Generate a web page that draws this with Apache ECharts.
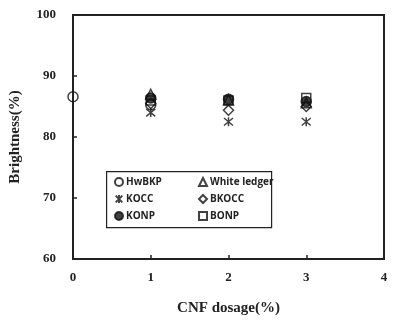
<!DOCTYPE html>
<html>
<head>
<meta charset="utf-8">
<script src="https://cdn.jsdelivr.net/npm/echarts@6/dist/echarts.min.js"></script>
<style>
  html, body { margin: 0; padding: 0; background: #fff; }
  #chart { width: 398px; height: 322px; }
</style>
</head>
<body>
<div id="chart"></div>
<script>
// CNF dosage (%) on the x axis
const dosage = [0, 1, 2, 3];
const xTicks = [0, 1, 2, 3, 4];
const yTicks = [60, 70, 80, 90, 100];

// Brightness (%) for each pulp furnish
const hwbkp = [[0, 86.6], [1, 85.3]];
const whiteLedger = [[1, 87.0], [2, 86.1], [3, 85.6]];
const kocc = [[1, 84.0], [2, 82.5], [3, 82.5]];
const bkocc = [[1, 85.5], [2, 84.4], [3, 85.0]];
const konp = [[1, 86.4], [2, 86.2], [3, 85.8]];
const bonp = [[1, 86.0], [2, 86.0], [3, 86.4]];

const seriesNames = ['HwBKP', 'White ledger', 'KOCC', 'BKOCC', 'KONP', 'BONP'];

const serif = 'Liberation Serif';
const sans = 'Open Sans';

const asterisk = 'path://M0,0 L10,10 M10,0 L0,10 M5,-1 L5,11';

function scatter(name, data, symbol, size, filled) {
  return {
    name: name,
    type: 'scatter',
    data: data,
    symbol: symbol,
    symbolSize: size,
    clip: false,
    itemStyle: {
      color: filled ? '#111' : 'rgba(255,255,255,0)',
      borderColor: '#111',
      borderWidth: 1.5
    }
  };
}

const legendText = { fontFamily: sans, fontWeight: 'bold', fontSize: 10, color: '#222', padding: [0, 0, 0, -2] };

const chart = echarts.init(document.getElementById('chart'), null, { renderer: 'canvas' });

chart.setOption({
  backgroundColor: '#fff',
  animation: false,
  grid: {
    left: 72, right: 14, top: 15, bottom: 63,
    show: true, borderColor: '#222', borderWidth: 2, backgroundColor: 'transparent'
  },
  xAxis: {
    type: 'value',
    min: xTicks[0], max: xTicks[xTicks.length - 1], interval: 1,
    name: 'CNF dosage(%)',
    nameLocation: 'middle',
    nameGap: 42,
    nameTextStyle: { fontFamily: serif, fontWeight: 'bold', fontSize: 15, color: '#222' },
    axisLine: { show: true, lineStyle: { color: '#222', width: 2 } },
    axisTick: { show: true, inside: true, length: 4, lineStyle: { color: '#222', width: 1.5 } },
    axisLabel: { fontFamily: serif, fontWeight: 'bold', fontSize: 13, color: '#222', margin: 12 },
    splitLine: { show: false }
  },
  yAxis: {
    type: 'value',
    min: yTicks[0], max: yTicks[yTicks.length - 1], interval: 10,
    name: 'Brightness(%)',
    nameLocation: 'middle',
    nameGap: 50,
    nameRotate: 90,
    nameTextStyle: { fontFamily: serif, fontWeight: 'bold', fontSize: 15, color: '#222' },
    axisLine: { show: true, lineStyle: { color: '#222', width: 2 } },
    axisTick: { show: true, inside: true, length: 4, lineStyle: { color: '#222', width: 1.5 } },
    axisLabel: { fontFamily: serif, fontWeight: 'bold', fontSize: 13, color: '#222', margin: 17 },
    splitLine: { show: false }
  },
  graphic: [{
    type: 'rect',
    left: 106, top: 171,
    shape: { width: 165, height: 56 },
    style: { fill: '#fff', stroke: '#222', lineWidth: 1.2 },
    z: 5
  }],
  legend: [
    {
      data: [seriesNames[0], seriesNames[2], seriesNames[4]],
      orient: 'vertical', left: 109, top: 172, itemGap: 7,
      itemWidth: 8, itemHeight: 8,
      textStyle: legendText,
      z: 6
    },
    {
      data: [seriesNames[1], seriesNames[3], seriesNames[5]],
      orient: 'vertical', left: 193, top: 172, itemGap: 7,
      itemWidth: 8, itemHeight: 8,
      textStyle: legendText,
      z: 6
    }
  ],
  series: [
    scatter(seriesNames[0], hwbkp, 'circle', 10, false),
    scatter(seriesNames[1], whiteLedger, 'triangle', 10, false),
    scatter(seriesNames[2], kocc, asterisk, 9, false),
    scatter(seriesNames[3], bkocc, 'diamond', 10, false),
    scatter(seriesNames[4], konp, 'circle', 10, true),
    scatter(seriesNames[5], bonp, 'rect', 9, false)
  ]
});
</script>
</body>
</html>
